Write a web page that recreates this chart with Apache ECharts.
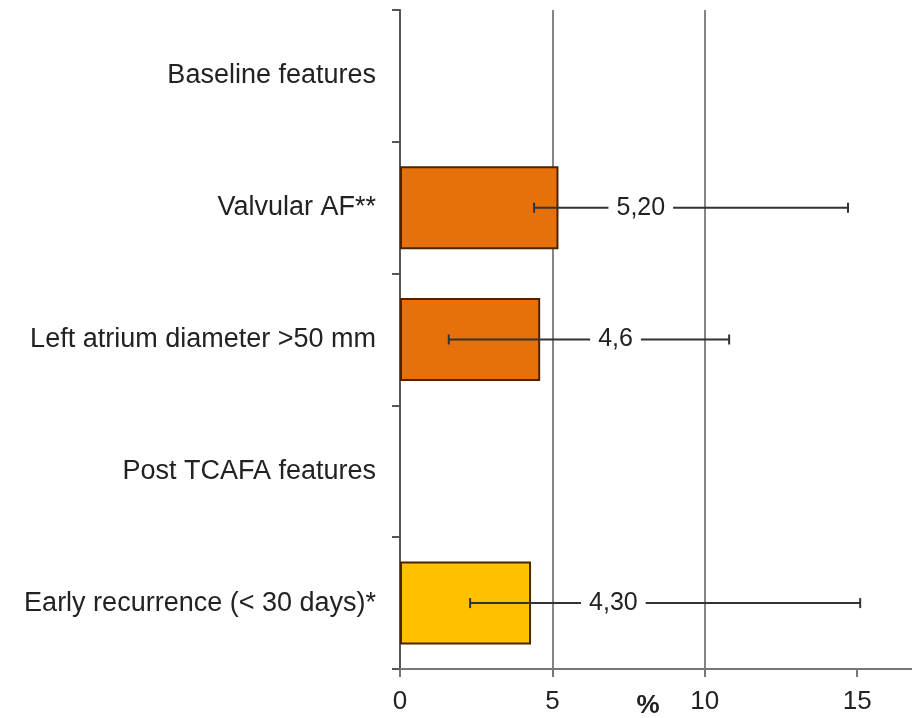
<!DOCTYPE html>
<html>
<head>
<meta charset="utf-8">
<script src="https://cdn.jsdelivr.net/npm/echarts@6/dist/echarts.min.js"></script>
<style>
  html, body { margin: 0; padding: 0; background: #fff; }
  #chart { width: 912px; height: 718px; }
</style>
</head>
<body>
<div id="chart"></div>
<script>
// Rows, top to bottom (section headers carry no value)
const categories = [
  'Baseline features',
  'Valvular AF**',
  'Left atrium diameter >50 mm',
  'Post TCAFA features',
  'Early recurrence (< 30 days)*'
];
const values   = [null, 5.20, 4.6, null, 4.30];
const decimals = [null, 2, 1, null, 2];
const ciLow    = [null, 4.4, 1.6, null, 2.3];
const ciHigh   = [null, 14.7, 10.8, null, 15.1];
const barColors = [null, '#E8700A', '#E8700A', null, '#FFC000'];
const xTicks = [0, 5, 10, 15];

const fmt = (v, d) => v.toFixed(d).replace('.', ',');

const barData = values.map((v, i) => v === null ? null : {
  value: v,
  itemStyle: { color: barColors[i] }
});

const errData = [];
values.forEach((v, i) => {
  if (v !== null) errData.push([i, ciLow[i], ciHigh[i], v, fmt(v, decimals[i])]);
});

const FONT = '"Liberation Sans", Arial, sans-serif';

const chart = echarts.init(document.getElementById('chart'));
chart.setOption({
  animation: false,
  backgroundColor: '#fff',
  grid: { left: 400, right: 0, top: 10, bottom: 49, outerBoundsMode: 'none', containLabel: false },
  xAxis: {
    type: 'value',
    min: 0,
    max: 16.8,
    interval: 5,
    name: '%',
    nameLocation: 'middle',
    nameGap: 24,
    nameMoveOverlap: false,
    nameTextStyle: {
      fontFamily: FONT, fontSize: 26, fontWeight: 'bold', color: '#222',
      verticalAlign: 'top',
      padding: [0, 16, 0, 0]
    },
    axisLine: { show: true, lineStyle: { color: '#777', width: 2 } },
    axisTick: { show: true, length: 8, customValues: xTicks, lineStyle: { color: '#777', width: 2 } },
    axisLabel: {
      customValues: xTicks,
      fontFamily: FONT, fontSize: 26, color: '#222', margin: 20
    },
    splitLine: {
      show: true, showMinLine: false, showMaxLine: false,
      lineStyle: { color: '#858585', width: 2 }
    }
  },
  yAxis: {
    type: 'category',
    inverse: true,
    data: categories,
    axisLine: { show: true, lineStyle: { color: '#555', width: 2 } },
    axisTick: { show: true, length: 8, lineStyle: { color: '#555', width: 2 } },
    axisLabel: { fontFamily: FONT, fontSize: 27, color: '#222', margin: 24 },
    splitLine: { show: false }
  },
  series: [
    {
      type: 'bar',
      data: barData,
      barCategoryGap: '37%',
      itemStyle: { borderColor: '#4a2400', borderWidth: 2 },
      z: 2
    },
    {
      type: 'custom',
      data: errData,
      z: 5,
      renderItem: function (params, api) {
        const cat = api.value(0);
        const lo = api.coord([api.value(1), cat]);
        const hi = api.coord([api.value(2), cat]);
        const end = api.coord([api.value(3), cat]);
        const y = lo[1];
        const cap = 5;
        const style = { stroke: '#333', lineWidth: 2 };
        return {
          type: 'group',
          children: [
            { type: 'line', shape: { x1: lo[0], y1: y, x2: hi[0], y2: y }, style: style },
            { type: 'line', shape: { x1: lo[0], y1: y - cap, x2: lo[0], y2: y + cap }, style: style },
            { type: 'line', shape: { x1: hi[0], y1: y - cap, x2: hi[0], y2: y + cap }, style: style },
            {
              type: 'text',
              x: end[0] + 50,
              y: y,
              style: {
                text: api.value(4),
                fontFamily: FONT,
                fontSize: 25,
                fill: '#222',
                align: 'left',
                verticalAlign: 'middle',
                backgroundColor: '#fff',
                padding: [2, 8]
              }
            }
          ]
        };
      }
    }
  ]
});
</script>
</body>
</html>
